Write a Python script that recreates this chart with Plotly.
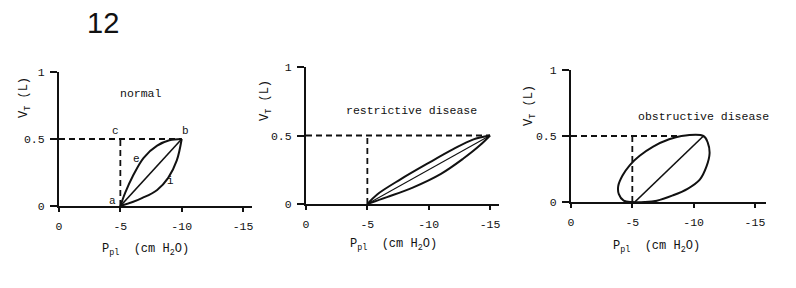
import plotly.graph_objects as go

W, H = 796, 288
INK = "#111111"
MONO = "Liberation Mono, DejaVu Sans Mono, monospace"

# ---------------- data ----------------
x_tick_vals = [0, -5, -10, -15]
x_tick_text = ["0", "-5", "-10", "-15"]
y_tick_vals = [0, 0.5, 1]
y_tick_text = ["0", "0.5", "1"]

panel_titles = ["normal", "restrictive disease", "obstructive disease"]
x_axis_title = "P<sub>pl</sub>  (cm H<sub>2</sub>O)"
y_axis_title = "V<sub>T</sub> (L)"

# normal
normal_upper_x = [-5.0, -5.4, -6.0, -6.9, -8.0, -9.0, -10.0]
normal_upper_y = [0.0, 0.10, 0.22, 0.36, 0.45, 0.49, 0.50]
normal_lower_x = [-5.0, -6.0, -6.8, -8.0, -8.9, -9.6, -10.0]
normal_lower_y = [0.0, 0.03, 0.06, 0.12, 0.21, 0.34, 0.50]
normal_mid_x = [-5.0, -10.0]
normal_mid_y = [0.0, 0.5]
normal_dash_h_x = [0, -10.0]
normal_dash_v_x = [-5.0, -5.0]

# restrictive
restr_upper_x = [-5.0, -5.8, -7.7, -10.0, -12.0, -13.6, -15.0]
restr_upper_y = [0.0, 0.07, 0.18, 0.30, 0.40, 0.47, 0.50]
restr_lower_x = [-5.0, -6.6, -8.7, -11.0, -12.8, -14.2, -15.0]
restr_lower_y = [0.0, 0.05, 0.12, 0.22, 0.33, 0.43, 0.50]
restr_mid_x = [-5.0, -15.0]
restr_mid_y = [0.0, 0.5]
restr_dash_h_x = [0, -15.0]
restr_dash_v_x = [-5.0, -5.0]

# obstructive (closed loop)
obstr_loop_x = [-10.8, -11.15, -11.3, -11.05, -10.5, -9.5, -8.3, -7.0, -6.0, -5.0,
                -4.3, -3.9, -3.85, -4.2, -4.8, -5.6, -6.7, -8.0, -9.0, -10.8]
obstr_loop_y = [0.50, 0.45, 0.37, 0.27, 0.17, 0.10, 0.05, 0.01, 0.0, 0.0,
                0.01, 0.06, 0.12, 0.20, 0.28, 0.35, 0.42, 0.475, 0.50, 0.50]
obstr_mid_x = [-5.2, -10.8]
obstr_mid_y = [0.0, 0.5]
obstr_dash_h_x = [0, -9.0]
obstr_dash_v_x = [-5.0, -5.0]

dash_h_y = [0.5, 0.5]
dash_v_y = [0.0, 0.5]

# point letters on the normal loop
normal_letters = ["c", "b", "e", "i", "a"]
normal_letters_x = [-4.6, -10.3, -6.3, -9.1, -4.4]
normal_letters_y = [0.56, 0.56, 0.35, 0.19, 0.04]

# ---------------- layout ----------------
x_domains = [[59 / W, 252 / W], [306 / W, 499 / W], [571 / W, 766 / W]]
x_ranges = [[0, -15.73], [0, -15.73], [0, -15.9]]
y_domains = [[82 / H, 216 / H], [84 / H, 221 / H], [86 / H, 218 / H]]

fig = go.Figure()

def add(xs, ys, k, width=2.0, dash=None, shape="spline"):
    fig.add_trace(go.Scatter(
        x=xs, y=ys, mode="lines", xaxis="x" + ("" if k == 1 else str(k)),
        yaxis="y" + ("" if k == 1 else str(k)),
        line=dict(color=INK, width=width, dash=dash, shape=shape),
        hoverinfo="skip", showlegend=False))

DASH = "6px,4px"
# panel 1
add(normal_dash_h_x, dash_h_y, 1, 1.8, DASH, "linear")
add(normal_dash_v_x, dash_v_y, 1, 1.8, DASH, "linear")
add(normal_upper_x, normal_upper_y, 1, 2.0)
add(normal_lower_x, normal_lower_y, 1, 2.0)
add(normal_mid_x, normal_mid_y, 1, 1.6, None, "linear")
# panel 2
add(restr_dash_h_x, dash_h_y, 2, 1.8, DASH, "linear")
add(restr_dash_v_x, dash_v_y, 2, 1.8, DASH, "linear")
add(restr_upper_x, restr_upper_y, 2, 2.0)
add(restr_lower_x, restr_lower_y, 2, 2.0)
add(restr_mid_x, restr_mid_y, 2, 1.1, None, "linear")
# panel 3
add(obstr_dash_h_x, dash_h_y, 3, 1.8, DASH, "linear")
add(obstr_dash_v_x, dash_v_y, 3, 1.8, DASH, "linear")
add(obstr_loop_x, obstr_loop_y, 3, 2.0)
add(obstr_mid_x, obstr_mid_y, 3, 1.6, None, "linear")

layout = dict(
    width=W, height=H, margin=dict(l=0, r=0, t=0, b=0),
    paper_bgcolor="white", plot_bgcolor="white",
    font=dict(family=MONO, size=11, color=INK),
    showlegend=False,
)
for i in range(3):
    sx = "" if i == 0 else str(i + 1)
    layout["xaxis" + sx] = dict(
        domain=x_domains[i], range=x_ranges[i], anchor="y" + sx,
        showline=True, linecolor=INK, linewidth=2, showgrid=False, zeroline=False,
        ticks="outside", ticklen=4, tickwidth=2, tickcolor=INK,
        tickvals=x_tick_vals, ticktext=x_tick_text, ticklabelstandoff=4,
        tickfont=dict(family=MONO, size=11.5, color=INK), automargin=False)
    layout["yaxis" + sx] = dict(
        domain=y_domains[i], range=[0, 1], anchor="x" + sx,
        showline=True, linecolor=INK, linewidth=2, showgrid=False, zeroline=False,
        ticks="outside", ticklen=7, tickwidth=2, tickcolor=INK,
        tickvals=y_tick_vals, ticktext=y_tick_text, ticklabelstandoff=3,
        tickfont=dict(family=MONO, size=11.5, color=INK), automargin=False)
fig.update_layout(**layout)

ann = []
C = dict(xanchor="center", yanchor="middle", showarrow=False)
# figure number
ann.append(dict(text="12", x=103 / W, y=1 - 23 / H, xref="paper", yref="paper",
                font=dict(family="Liberation Sans, Arial", size=29, color="#111"), **C))
# panel titles (data coords)
title_pos = [(-6.7, 0.84, "x", "y"), (-8.6, 0.68, "x2", "y2"), (-10.8, 0.65, "x3", "y3")]
for t, (tx, ty, xr, yr) in zip(panel_titles, title_pos):
    ann.append(dict(text=t, x=tx, y=ty, xref=xr, yref=yr,
                    font=dict(family=MONO, size=11.5, color=INK), **C))
# x axis titles
for cx, cy in [(145, 250), (393, 245), (656, 247)]:
    ann.append(dict(text=x_axis_title, x=cx / W, y=1 - cy / H, xref="paper", yref="paper",
                    font=dict(family=MONO, size=12, color=INK), **C))
# y axis titles
for cx, cy in [(25, 97), (266, 101), (530, 106)]:
    ann.append(dict(text=y_axis_title, x=cx / W, y=1 - cy / H, xref="paper", yref="paper",
                    textangle=-90, font=dict(family=MONO, size=12, color=INK), **C))
# letters on normal loop
for t, lx, ly in zip(normal_letters, normal_letters_x, normal_letters_y):
    ann.append(dict(text=t, x=lx, y=ly, xref="x", yref="y",
                    font=dict(family=MONO, size=11, color=INK), **C))
fig.update_layout(annotations=ann)

fig.write_html("out.html")
